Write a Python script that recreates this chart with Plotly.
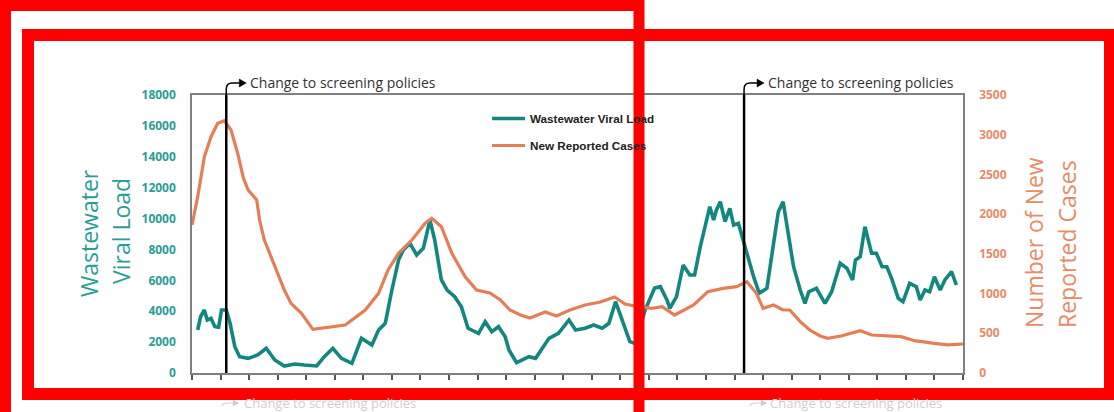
import plotly.graph_objects as go

# ---------------- data ----------------
# x = day index (ticks every 30 days), no tick labels shown in the original
ww_day = [6, 9, 13, 16, 20, 24, 28, 31, 36, 40,
          45, 50, 59, 69, 78, 87, 97, 108, 118, 131,
          139, 148, 157, 164, 168, 178, 189, 196, 203, 210,
          217, 222, 229, 236, 243, 250, 255, 262, 268, 276,
          283, 290, 301, 308, 315, 322, 329, 333, 341, 354,
          361, 375, 385, 396, 403, 413, 422, 431, 438, 445,
          453, 460, 466, 476, 486, 492, 499, 502, 509, 516,
          523, 528, 534, 539, 544, 548, 551, 555, 560, 565,
          569, 574, 579, 584, 590, 596, 604, 611, 616, 621,
          625, 632, 639, 644, 648, 656, 665, 672, 681, 688,
          694, 697, 702, 707, 714, 719, 725, 730, 735, 742,
          747, 754, 761, 765, 770, 775, 780, 786, 791, 798,
          803]
ww_load = [2784, 3646, 4079, 3432, 3540, 2998, 2959, 4079, 4079, 3218,
           1703, 1056, 950, 1166, 1599, 842, 453, 583, 518, 453,
           1056, 1599, 950, 734, 626, 2247, 1813, 2784, 3218, 5374,
           7317, 7964, 8396, 7641, 8073, 9907, 8612, 6022, 5374, 4941,
           4293, 2894, 2571, 3322, 2674, 2998, 2350, 1489, 667, 1056,
           950, 2247, 2571, 3432, 2784, 2894, 3108, 2894, 3218, 4617,
           3218, 2027, 1900, 4079, 5504, 5589, 4727, 4189, 4941, 6993,
           6346, 6346, 8180, 9473, 10768, 9907, 10554, 11092, 9797, 10664,
           9583, 9693, 8612, 7427, 6235, 5160, 5484, 8396, 10444, 11092,
           9473, 6883, 5374, 4510, 5264, 5484, 4510, 5264, 7103, 6779,
           6022, 7317, 7533, 9473, 7749, 7749, 6883, 6883, 6130, 4834,
           4617, 5806, 5589, 4727, 5374, 5264, 6235, 5374, 6022, 6559,
           5697]

cases_day = [0, 6, 13, 20, 27, 34, 41, 48, 54, 59,
             68, 71, 76, 87, 97, 104, 115, 127, 143, 161,
             182, 196, 206, 217, 231, 245, 252, 262, 273, 287,
             299, 313, 324, 334, 345, 355, 371, 383, 397, 413,
             429, 444, 455, 465, 483, 494, 507, 527, 542, 558,
             572, 583, 593, 600, 611, 621, 628, 639, 649, 660,
             668, 682, 702, 714, 745, 759, 780, 794, 810]
cases = [1863, 2220, 2723, 2975, 3143, 3176, 3059, 2766, 2455, 2304,
         2178, 1926, 1674, 1338, 1045, 877, 751, 550, 575, 604,
         793, 1003, 1297, 1507, 1674, 1885, 1948, 1842, 1507, 1212,
         1045, 1007, 919, 793, 730, 692, 768, 717, 793, 856,
         894, 957, 869, 844, 814, 835, 730, 856, 1024, 1066,
         1087, 1150, 1003, 814, 856, 793, 793, 646, 541, 466,
         437, 466, 533, 478, 457, 407, 374, 353, 365]

policy_change_days = [36, 580]
policy_label = "Change to screening policies"

x_range = [0, 810]
left_range = [0, 18000]
right_range = [0, 3500]

# ---------------- styling / layout helpers ----------------
W, H = 1114, 412
PL, PR, PT, PB = 192, 963, 95, 373  # plot area in pixels


def px_x(p):
    return (p - PL) / (PR - PL)


def px_y(p):
    return (PB - p) / (PB - PT)


TEAL = "#12877f"
ORANGE = "#e67e55"
TEAL_TXT = "#2b9d97"
ORANGE_TXT = "#e88b66"
FONT = "Open Sans"

fig = go.Figure()
fig.add_trace(go.Scatter(x=ww_day, y=ww_load, mode="lines", name="Wastewater Viral Load",
                         line=dict(color=TEAL, width=3.6), legendgroup="a"))
fig.add_trace(go.Scatter(x=cases_day, y=cases, mode="lines", name="New Reported Cases",
                         line=dict(color=ORANGE, width=3.2), yaxis="y2", legendgroup="b"))

shapes = []
annotations = []
for d in policy_change_days:
    shapes.append(dict(type="line", xref="x", yref="paper", x0=d, x1=d, y0=0, y1=1,
                       line=dict(color="black", width=2.5), layer="above"))
    shapes.append(dict(type="path", xref="x", yref="paper", xsizemode="pixel", ysizemode="pixel",
                       xanchor=d, yanchor=1, path="M0,0 L0,6 Q0,12 6,12 L14,12",
                       line=dict(color="black", width=1.5), layer="above"))
    shapes.append(dict(type="path", xref="x", yref="paper", xsizemode="pixel", ysizemode="pixel",
                       xanchor=d, yanchor=1, path="M13,16 L20,12 L13,8 Z",
                       fillcolor="black", line=dict(color="black", width=0.5), layer="above"))
    annotations.append(dict(x=d, y=1, xref="x", yref="paper", text=policy_label, showarrow=False,
                            xanchor="left", yanchor="middle", xshift=22, yshift=13,
                            font=dict(family=FONT, size=14, color="#333333")))

# faint ghost copies of the annotation at the bottom
GHOST = "#cfcfcf"
GY = 403
for tx, ax in [(242, 222), (768, 750)]:
    annotations.append(dict(x=px_x(tx), y=px_y(GY), xref="paper", yref="paper", text=policy_label,
                            showarrow=False, xanchor="left", yanchor="middle",
                            font=dict(family=FONT, size=13, color=GHOST)))
    shapes.append(dict(type="path", xref="paper", yref="paper", xsizemode="pixel", ysizemode="pixel",
                       xanchor=px_x(ax), yanchor=px_y(GY), path="M0,-3 Q1,0 5,0 L12,0",
                       line=dict(color=GHOST, width=1.2), layer="above"))
    shapes.append(dict(type="path", xref="paper", yref="paper", xsizemode="pixel", ysizemode="pixel",
                       xanchor=px_x(ax), yanchor=px_y(GY), path="M11,3 L17,0 L11,-3 Z",
                       fillcolor=GHOST, line=dict(color=GHOST, width=0.5), layer="above"))

# axis titles
annotations += [
    dict(x=px_x(89), y=px_y(233), xref="paper", yref="paper", text="Wastewater", textangle=-90,
         showarrow=False, xanchor="center", yanchor="middle", font=dict(family=FONT, size=23, color=TEAL_TXT)),
    dict(x=px_x(121), y=px_y(231), xref="paper", yref="paper", text="Viral Load", textangle=-90,
         showarrow=False, xanchor="center", yanchor="middle", font=dict(family=FONT, size=23, color=TEAL_TXT)),
    dict(x=px_x(1034), y=px_y(243), xref="paper", yref="paper", text="Number of New", textangle=-90,
         showarrow=False, xanchor="center", yanchor="middle", font=dict(family=FONT, size=23, color=ORANGE_TXT)),
    dict(x=px_x(1067), y=px_y(244), xref="paper", yref="paper", text="Reported Cases", textangle=-90,
         showarrow=False, xanchor="center", yanchor="middle", font=dict(family=FONT, size=23, color=ORANGE_TXT)),
]

# red frames drawn over the picture
RED = "#ff0000"
shapes.append(dict(type="rect", xref="paper", yref="paper",
                   x0=px_x(5.5), x1=px_x(639), y0=px_y(5.5), y1=px_y(430),
                   line=dict(color=RED, width=11), layer="above"))
shapes.append(dict(type="rect", xref="paper", yref="paper",
                   x0=px_x(28), x1=px_x(1110), y0=px_y(35), y1=px_y(394),
                   line=dict(color=RED, width=12), layer="above"))

fig.update_layout(
    width=W, height=H,
    margin=dict(l=PL, r=W - PR, t=PT, b=H - PB, pad=0),
    paper_bgcolor="white", plot_bgcolor="white",
    showlegend=True,
    legend=dict(x=px_x(487), y=px_y(104), xanchor="left", yanchor="top",
                bgcolor="rgba(0,0,0,0)", traceorder="grouped", tracegroupgap=8,
                itemwidth=33,
                font=dict(family="Liberation Sans", size=11.7, color="#222222", weight="bold")),
    xaxis=dict(range=x_range, tick0=0, dtick=30, showticklabels=False, ticks="outside",
               ticklen=5, tickwidth=1.5, tickcolor="#555555", showgrid=False, zeroline=False,
               showline=True, linecolor="#808080", linewidth=1.5, mirror=True),
    yaxis=dict(range=left_range, dtick=2000, tickformat="d", showgrid=False, zeroline=False,
               showline=True, linecolor="#808080", linewidth=1.5,
               tickfont=dict(family=FONT, size=12, color=TEAL_TXT, weight="bold"),
               ticklabelstandoff=12),
    yaxis2=dict(range=right_range, dtick=500, tickformat="d", overlaying="y", side="right",
                showgrid=False, zeroline=False, showline=True, linecolor="#808080", linewidth=1.5,
                tickfont=dict(family=FONT, size=12, color=ORANGE_TXT, weight="bold"),
                ticklabelstandoff=12),
    shapes=shapes,
    annotations=annotations,
)

fig.write_html("out.html", config={"displayModeBar": False},
               post_script="document.body.style.margin='0';document.body.style.overflow='hidden';")
